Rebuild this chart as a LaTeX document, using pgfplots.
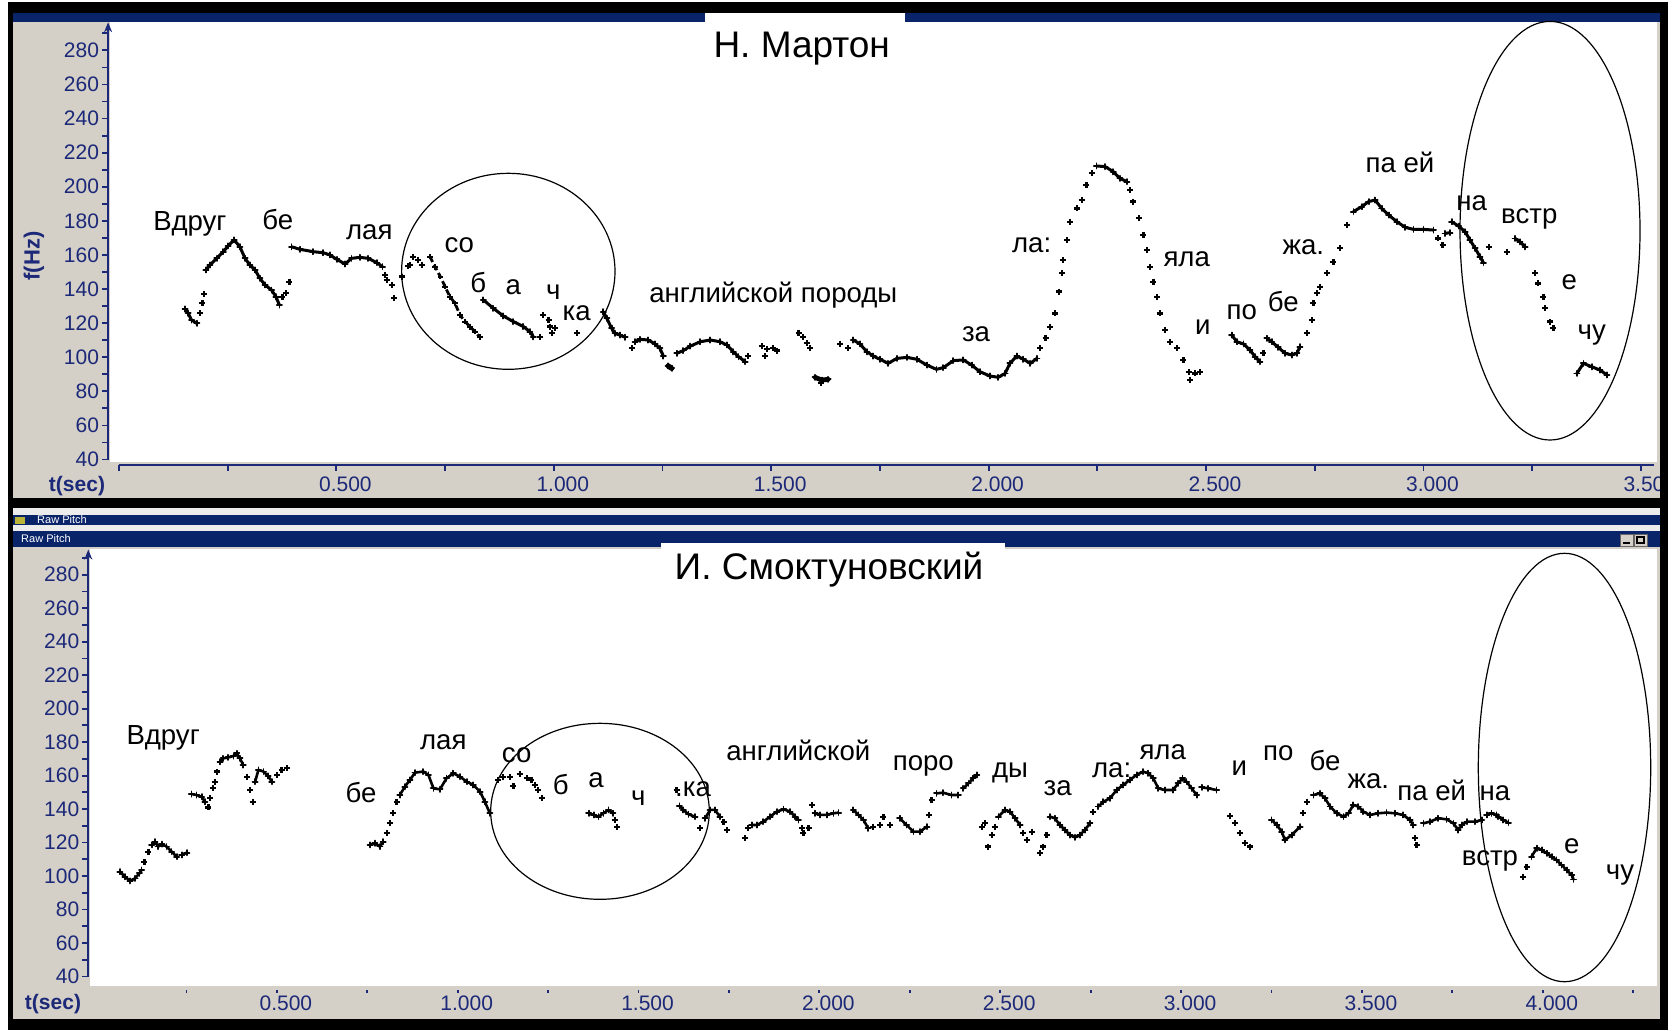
\documentclass[border=0pt]{standalone}
\usepackage{fontspec}
\setmainfont{Liberation Sans}
\usepackage{pgfplots}
\pgfplotsset{compat=1.18}
\usetikzlibrary{arrows.meta}
\definecolor{wingrey}{RGB}{212,208,200}
\definecolor{winblue}{RGB}{10,36,106}
\definecolor{axnavy}{RGB}{28,40,120}
\definecolor{lightgap}{RGB}{236,236,236}
\newcommand\wl{\fontsize{13.8}{15}\selectfont}
\newcommand\tl{\fontsize{18.5}{20}\selectfont}
\pgfplotsset{
  seg/.style={black, line width=1.5pt, mark=+, mark size=1.3pt, mark options={line width=0.9pt}, line join=round, line cap=round},
  segb/.style={black, line width=1.3pt, mark=+, mark size=1.3pt, mark options={line width=0.9pt}, line join=round, line cap=round},
  dts/.style={black, only marks, mark=+, mark size=1.5pt, mark options={line width=1.1pt}},
  dsh/.style={black, line width=1.4pt, dash pattern=on 3pt off 1.6pt, mark=+, mark size=1.4pt, mark options={solid,line width=1pt}},
  pitchaxis/.style={scale only axis, clip=false,
    axis x line*=bottom, axis y line*=left,
    x axis line style={draw=none}, y axis line style={draw=none},
    tick align=outside, major tick length=3pt,
    tick style={axnavy, line width=0.9pt},
    ticklabel style={font=\fontsize{10.5}{12}\selectfont, text=axnavy},
    yticklabel style={xshift=2pt},
    ytick={40,50,...,290},
    yticklabels={40,{},60,{},80,{},100,{},120,{},140,{},160,{},180,{},200,{},220,{},240,{},260,{},280,{}},
  },
}
\begin{document}
\begin{tikzpicture}
\begin{scope}[x=0.5pt,y=-0.5pt]
\path[use as bounding box] (0,0) rectangle (1675,1030);
\fill[white] (0,0) rectangle (1675,1030);
\fill[wingrey] (13,13) rectangle (1660,1019);
\fill[white] (110,22) rectangle (1657,462);
\fill[white] (90,549) rectangle (1657,986);
\fill[black] (8,2) rectangle (1668,13);
\fill[winblue] (13,13) rectangle (1660,22);
\fill[white] (705,13) rectangle (905,22);
\fill[black] (8,498) rectangle (1668,508);
\fill[lightgap] (13,508) rectangle (1660,515);
\fill[winblue] (13,515) rectangle (1660,525);
\fill[lightgap] (13,525) rectangle (1660,531);
\fill[winblue] (13,531) rectangle (1660,547);
\fill[white] (661,543) rectangle (1005,549);
\fill[black] (8,1019) rectangle (1668,1030);
\fill[black] (8,2) rectangle (13,1030);
\fill[yellow!70!black] (15,517) rectangle (25,524);
\node[text=white, font=\fontsize{5.5}{6}\selectfont] at (62,520) {Raw Pitch};
\node[text=white, font=\fontsize{5.5}{6}\selectfont] at (46,539) {Raw Pitch};
\foreach \bx in {1620,1634} {\filldraw[fill=wingrey, draw=black!60, line width=0.3pt] (\bx,534) rectangle ++(13,12);}
\draw[black, line width=0.8pt] (1623,543) -- (1630,543);
\draw[black, line width=0.6pt] (1637,537) rectangle (1644,543);
\end{scope}

\pgfinterruptboundingbox
% ---------------- top panel ----------------
\begin{axis}[pitchaxis,
  at={(54.05pt,-232.3pt)}, anchor=south west,
  width=775.05pt, height=221.35pt,
  xmin=-0.025, xmax=3.54, ymin=37, ymax=296.7,
  xtick={0,0.25,...,3.5},
  xticklabels={{},{},0.500,{},1.000,{},1.500,{},2.000,{},2.500,{},3.000,{},3.500},
  xticklabel style={xshift=4.5pt, yshift=0.6pt},
]
\draw[axnavy, line width=1.1pt, -{Stealth[length=5pt,width=4pt]}] (axis cs:-0.025,40) -- (axis cs:-0.025,296.5);
\draw[axnavy, line width=1.1pt] (axis cs:0,37) -- (axis cs:3.53,37);
\addplot[seg] coordinates {(0.152,128.3)(0.159,125.8)(0.167,121.8)(0.179,119.9)};
\addplot[dts] coordinates {(0.186,125.8)(0.192,131.6)(0.196,136.9)};
\addplot[seg] coordinates {(0.200,151.2)(0.209,154.1)(0.225,158.0)(0.240,161.9)(0.251,165.3)(0.265,168.8)(0.278,164.8)(0.290,158.0)(0.301,154.1)(0.313,151.2)(0.324,146.3)(0.336,142.4)(0.351,139.4)(0.361,135.5)(0.369,130.6)};
\addplot[dts] coordinates {(0.376,135.5)(0.384,137.5)(0.392,144.3)};
\addplot[seg] coordinates {(0.397,164.8)(0.416,163.3)(0.447,161.9)(0.470,161.3)(0.485,160.0)(0.501,157.4)(0.520,154.7)(0.535,158.0)(0.554,158.6)(0.573,158.0)(0.593,155.5)(0.606,153.1)};
\addplot[dts] coordinates {(0.612,148.2)(0.617,145.3)(0.627,142.4)(0.632,134.6)};
\addplot[dts] coordinates {(0.650,147.3)(0.665,153.5)(0.669,154.0)(0.677,159.0)(0.688,157.0)(0.696,154.1)};
\addplot[dsh] coordinates {(0.715,159.0)(0.727,153.1)(0.739,147.3)(0.750,141.4)(0.761,135.5)(0.773,131.6)(0.784,124.8)(0.796,120.9)(0.807,117.9)(0.819,115.0)(0.830,111.7)};
\addplot[seg] coordinates {(0.838,133.6)(0.861,128.7)(0.884,124.2)(0.907,120.9)(0.930,118.0)(0.945,115.0)(0.953,112.0)};
\addplot[dts] coordinates {(0.968,112)(0.976,124.8)(0.988,121.9)(0.991,118)(0.995,114)(1.003,117)(1.053,114)};
\addplot[seg] coordinates {(1.114,126.7)(1.122,122.8)(1.133,117)(1.141,114)(1.152,113)(1.164,111.7)};
\addplot[dts] coordinates {(1.179,105.2)};
\addplot[seg] coordinates {(1.187,109.1)(1.198,110.5)(1.217,110.1)(1.233,107.8)(1.244,105.2)(1.252,100.7)};
\addplot[seg, line width=2.6pt] coordinates {(1.263,94.9)(1.271,93.5)};
\addplot[seg] coordinates {(1.283,102.3)(1.298,103.9)(1.314,106.5)(1.337,109.1)(1.360,110.1)(1.382,109.1)(1.398,107.2)(1.413,103.2)(1.425,100.3)(1.440,97.4)};
\addplot[dts] coordinates {(1.447,100.7)(1.478,106.5)(1.490,104.6)(1.505,105.2)(1.486,100.7)(1.513,103.9)};
\addplot[dts] coordinates {(1.563,114.4)(1.574,112)(1.582,108.2)(1.589,105.2)};
\addplot[seg, line width=2.4pt] coordinates {(1.601,88.2)(1.616,86.6)(1.631,87)};
\addplot[dts] coordinates {(1.614,84.7)(1.658,107.8)(1.677,105.2)};
\addplot[seg] coordinates {(1.689,110.1)(1.704,107.8)(1.720,103.2)(1.735,100.7)(1.750,98.8)(1.769,96.4)(1.789,99.3)(1.812,99.9)(1.835,98.8)(1.858,95.4)(1.880,92.9)(1.896,93.9)(1.919,98.0)(1.942,98.4)(1.961,95.4)(1.980,91.5)(2.003,89.0)(2.022,88.2)(2.038,90.5)(2.049,96.4)(2.065,100.7)(2.080,98.8)(2.096,96.4)(2.111,99.3)};
\addplot[dts] coordinates {(2.119,105.2)(2.131,111.1)(2.142,117.9)(2.153,125.7)(2.161,138.5)(2.169,149.2)(2.172,157)(2.180,168.8)(2.188,179.5)(2.203,187.3)(2.214,192.2)(2.225,201)(2.237,207.9)};
\addplot[seg] coordinates {(2.248,212.2)(2.268,211.8)(2.287,208.8)(2.302,204.9)(2.318,203)};
\addplot[dts] coordinates {(2.325,198.1)(2.333,191.3)(2.345,181.5)(2.356,171.7)(2.364,162.9)(2.372,153.1)(2.379,144.3)(2.387,135.5)(2.394,125.7)(2.406,116)(2.417,109.1)(2.433,105.2)(2.448,98.4)(2.460,91.5)(2.463,86.6)(2.475,90.5)(2.486,91.5)};
\addplot[seg] coordinates {(2.559,113)(2.571,109.1)(2.586,107.8)(2.601,104.2)(2.613,100.3)(2.624,97.4)};
\addplot[dts] coordinates {(2.632,102.3)};
\addplot[seg] coordinates {(2.640,111.1)(2.651,109.1)(2.666,105.8)(2.682,102.3)(2.697,101.3)(2.709,102.3)(2.716,106.2)};
\addplot[dts] coordinates {(2.732,114)(2.743,121.8)(2.747,131.6)(2.755,137.5)(2.762,141.4)(2.778,149.2)(2.793,156)(2.808,163.9)(2.824,177.6)};
\addplot[seg] coordinates {(2.839,185.4)(2.858,188.3)(2.874,191.3)(2.889,192.2)(2.904,187.3)(2.920,183.4)(2.939,179.5)(2.958,176.2)(2.977,175)(3.000,175)(3.023,174.6)};
\addplot[dts] coordinates {(3.034,169.7)(3.044,165.8)};
\addplot[seg] coordinates {(3.050,172.6)(3.061,173.1)};
\addplot[seg] coordinates {(3.065,179.5)(3.081,176.9)(3.096,173.6)(3.107,168.8)(3.119,163.9)(3.130,159.0)(3.138,155.5)};
\addplot[dts] coordinates {(3.150,164.8)(3.192,161.9)};
\addplot[seg] coordinates {(3.211,169.7)(3.222,167.7)(3.234,164.8)};
\addplot[dts] coordinates {(3.257,149.2)(3.264,143.3)(3.276,135.5)(3.280,128.7)(3.291,120.9)(3.299,117)};
\addplot[seg] coordinates {(3.353,90.5)(3.368,96.4)(3.387,94.4)(3.406,92.5)(3.422,89.6)};
\end{axis}

% ---------------- bottom panel ----------------
\begin{axis}[pitchaxis,
  at={(44.15pt,-493.35pt)}, anchor=south west,
  width=783.3pt, height=218.9pt,
  xmin=-0.0213, xmax=4.31, ymin=33.9, ymax=295.4,
  xtick={0.25,0.5,...,4.25},
  xticklabels={{},0.500,{},1.000,{},1.500,{},2.000,{},2.500,{},3.000,{},3.500,{},4.000,{}},
  xticklabel style={xshift=4.5pt, yshift=1.8pt},
  xtick style={axnavy, line width=0.9pt, dash pattern=on 1.2pt off 20pt},
]
\draw[axnavy, line width=1.1pt, -{Stealth[length=5pt,width=4pt]}] (axis cs:-0.0213,40) -- (axis cs:-0.0213,295);
\addplot[segb] coordinates {(0.066,102.6)(0.080,99.6)(0.094,97.1)(0.108,98.6)(0.120,101.6)(0.126,103.6)};
\addplot[dts] coordinates {(0.134,108.2)(0.145,114.6)};
\addplot[segb] coordinates {(0.154,118.6)(0.163,120.5)(0.172,117.6)(0.182,119.1)(0.195,117.6)(0.209,114.6)(0.223,111.6)};
\addplot[segb] coordinates {(0.237,112.6)(0.251,114.0)};
\addplot[segb] coordinates {(0.264,149)(0.278,148.4)(0.292,147.4)(0.301,144.4)};
\addplot[dts] coordinates {(0.311,141.0)(0.315,146.4)(0.324,152.4)(0.329,156.4)(0.334,162.4)};
\addplot[segb] coordinates {(0.343,168.3)(0.352,170.3)(0.366,170.9)(0.380,171.7)(0.389,173.3)(0.398,170.3)(0.407,166.3)};
\addplot[dts] coordinates {(0.417,159.4)(0.426,151.4)(0.433,144.4)};
\addplot[segb] coordinates {(0.440,156.4)(0.449,163.4)(0.463,162.4)(0.476,159.8)(0.486,156.4)};
\addplot[dts] coordinates {(0.500,160.4)(0.513,163.4)(0.527,164.4)};
\addplot[segb] coordinates {(0.758,118.6)(0.771,119.6)(0.785,117.6)(0.794,120.5)};
\addplot[dts] coordinates {(0.804,125.5)(0.813,131.5)(0.822,137.5)(0.831,144.4)};
\addplot[segb] coordinates {(0.840,148.4)(0.854,153.4)(0.868,157.4)(0.882,161.8)(0.905,162.4)(0.919,160.4)(0.933,152.4)(0.951,151.8)(0.969,158.4)(0.988,161.4)(1.006,159.4)(1.025,156.4)(1.043,154.4)(1.062,150.4)(1.075,144.4)(1.089,137.5)};
\addplot[dts] coordinates {(1.112,157.4)(1.126,159.4)(1.145,159)(1.154,153.8)(1.172,161)(1.191,158.4)(1.204,157.4)(1.214,154.4)(1.223,151.4)(1.232,146.4)};
\addplot[segb] coordinates {(1.362,137.5)(1.376,136.5)(1.389,135.5)(1.403,137.5)(1.417,139.5)(1.429,137.5)};
\addplot[dts] coordinates {(1.435,133.5)(1.441,129.5)};
\addplot[segb] coordinates {(1.613,141.9)(1.624,139.5)(1.638,136.9)(1.656,135.5)};
\addplot[dts] coordinates {(1.605,151.4)(1.670,128.5)};
\addplot[segb] coordinates {(1.684,134.5)(1.698,139.5)(1.711,139.5)(1.725,135.5)};
\addplot[dts] coordinates {(1.735,132.5)(1.744,127.5)(1.794,122.6)(1.803,128.5)};
\addplot[segb] coordinates {(1.813,130.5)(1.827,130.5)(1.845,132.5)(1.864,135.5)(1.882,138.5)(1.901,139.9)(1.919,138.5)(1.933,135.5)(1.942,133.5)};
\addplot[dts] coordinates {(1.951,128.5)(1.956,125.5)(1.970,128.5)(1.979,142.5)};
\addplot[segb] coordinates {(1.988,137.5)(2.002,136.5)(2.020,136.5)(2.039,137.5)(2.053,137.9)};
\addplot[segb] coordinates {(2.094,139.5)(2.108,136.5)(2.122,133.5)(2.135,128.5)};
\addplot[dts] coordinates {(2.149,129.5)(2.168,130.5)(2.177,135.5)(2.195,130.5)};
\addplot[segb] coordinates {(2.222,134.5)(2.241,130.5)(2.260,126.5)(2.278,126.5)(2.297,129.5)};
\addplot[dts] coordinates {(2.304,136.5)(2.310,145.4)};
\addplot[segb] coordinates {(2.324,149.4)(2.342,149.8)(2.365,148.4)(2.384,148.4)};
\addplot[segb] coordinates {(2.398,152.4)(2.412,155.4)(2.425,158.4)(2.435,160.4)};
\addplot[dts] coordinates {(2.449,129.5)(2.458,131.5)(2.467,117.6)(2.477,124.5)(2.486,129.5)};
\addplot[segb] coordinates {(2.495,135.5)(2.513,139.5)(2.527,138.5)(2.541,134.5)(2.555,130.5)};
\addplot[dts] coordinates {(2.564,125.5)(2.573,121.6)(2.587,126.5)(2.610,113.6)(2.619,117.6)(2.628,124.5)};
\addplot[segb] coordinates {(2.638,135.5)(2.651,134.5)(2.665,130.5)(2.679,127.5)(2.693,124.5)(2.707,123.1)(2.720,124.5)(2.734,127.5)(2.748,131.5)};
\addplot[dts] coordinates {(2.757,138.5)};
\addplot[segb] coordinates {(2.771,141.5)(2.785,144.4)(2.803,146.4)(2.822,151.4)(2.840,154.4)(2.858,157.4)(2.877,160.4)(2.895,162.4)(2.909,161.4)(2.923,158.4)(2.937,152.4)(2.955,151.4)(2.978,151.4)(2.992,155.4)(3.004,158.4)(3.015,156.4)(3.029,152.4)(3.043,148.4)};
\addplot[segb] coordinates {(3.057,153)(3.075,152.4)(3.098,151.4)};
\addplot[dts] coordinates {(3.135,135.9)(3.149,131.5)(3.162,125.5)(3.176,119.6)(3.190,117.6)};
\addplot[segb] coordinates {(3.250,133.5)(3.265,130.5)(3.278,126.5)(3.287,121.6)(3.306,124.5)(3.329,129.5)};
\addplot[dts] coordinates {(3.338,137.5)(3.347,144.4)};
\addplot[segb] coordinates {(3.366,148.4)(3.384,149.4)(3.398,146.4)(3.412,141.5)(3.430,137.5)(3.449,135.5)(3.463,137.5)(3.476,142.5)(3.490,141.5)(3.504,138.5)(3.522,136.5)(3.545,137.5)(3.568,137.9)(3.591,137.5)(3.614,136.5)(3.633,133.5)(3.642,130.5)};
\addplot[dts] coordinates {(3.647,122.6)(3.651,118.6)};
\addplot[segb] coordinates {(3.670,131.5)(3.688,132.5)(3.711,134.5)(3.734,133.9)(3.753,131.5)(3.766,127.5)(3.776,130.5)(3.790,132.5)(3.813,132.5)(3.831,133.5)};
\addplot[segb] coordinates {(3.845,136.5)(3.858,137.5)(3.872,136.5)(3.877,135.5)(3.891,133.5)(3.905,131.9)};
\addplot[dts] coordinates {(3.946,99.6)(3.955,105.6)};
\addplot[segb] coordinates {(3.969,111.6)(3.983,116.6)(3.997,115.6)(4.011,113.6)(4.025,111.6)(4.038,109.6)(4.052,106.6)(4.066,103.6)(4.080,100.6)(4.085,98.0)};
\end{axis}
\endpgfinterruptboundingbox

\begin{scope}[x=0.5pt,y=-0.5pt]
% right border drawn over the axes
\fill[white] (1668,0) rectangle (1675,1030);
\fill[black] (1660,2) rectangle (1668,1030);
% axis titles
\node[text=axnavy, font=\bfseries\fontsize{10.5}{12}\selectfont] at (77,486) {t(sec)};
\node[text=axnavy, font=\bfseries\fontsize{10.5}{12}\selectfont] at (53,1004) {t(sec)};
\node[text=axnavy, font=\bfseries\fontsize{11}{12}\selectfont, rotate=90] at (34,256) {f(Hz)};
% titles
\node[font=\tl, anchor=mid] at (801.7,52) {Н. Мартон};
\node[font=\tl, anchor=mid] at (829,574) {И. Смоктуновский};
% ellipses
\draw[black, line width=0.6pt] (508.3,271.3) ellipse [x radius=106.7, y radius=98];
\draw[black, line width=0.6pt] (1550,230.7) ellipse [x radius=90, y radius=209.3];
\draw[black, line width=0.6pt] (600,811.3) ellipse [x radius=109.3, y radius=88];
\draw[black, line width=0.6pt] (1564.5,767.5) ellipse [x radius=86.2, y radius=214.2];
% words
\begin{scope}[every node/.style={font=\wl, anchor=mid, inner sep=0pt}]
\node at (190,225) {Вдруг};
\node at (277.7,224) {бе};
\node at (369.3,234) {лая};
\node at (459.3,247) {со};
\node at (478.3,287) {б};
\node at (513.3,289) {а};
\node at (553.3,294) {ч};
\node at (576.7,315) {ка};
\node at (773.3,297) {английской породы};
\node at (976,336) {за};
\node at (1031.7,247) {ла:};
\node at (1186.7,261) {яла};
\node at (1202.7,329) {и};
\node at (1241.7,314) {по};
\node at (1283.3,306) {бе};
\node at (1303.3,249) {жа.};
\node at (1400,167) {па ей};
\node at (1471.7,205) {на};
\node at (1529.3,218) {встр};
\node at (1569.3,284) {е};
\node at (1591.7,334) {чу};
\node at (163.3,739) {Вдруг};
\node at (443.3,744) {лая};
\node at (361,797) {бе};
\node at (516.7,757) {со};
\node at (560.7,789) {б};
\node at (596,782) {а};
\node at (638.3,800) {ч};
\node at (693,791) {.ка};
\node at (798.3,755) {английской};
\node at (923.3,765) {поро};
\node at (1010,772) {ды};
\node at (1057.7,790) {за};
\node at (1111.7,772) {ла:};
\node at (1162.7,754) {яла};
\node at (1239.3,770) {и};
\node at (1278.3,755) {по};
\node at (1325,765) {бе};
\node at (1368.3,783) {жа.};
\node at (1431.7,795) {па ей};
\node at (1495,795) {на};
\node at (1490,860) {встр};
\node at (1571.7,848) {е};
\node at (1620,874) {чу};
\end{scope}
\end{scope}
\end{tikzpicture}
\end{document}
